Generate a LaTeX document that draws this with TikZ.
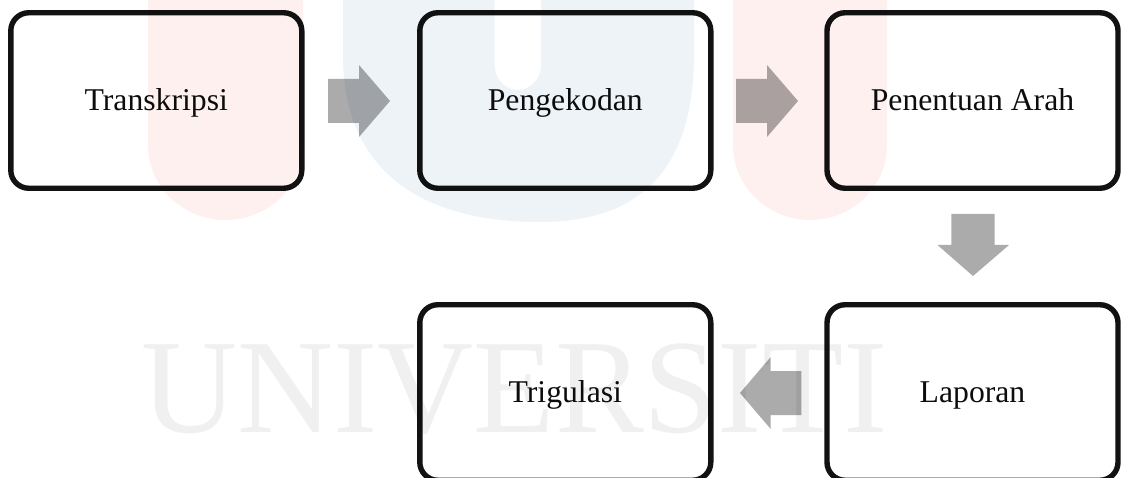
\documentclass[tikz,border=0pt]{standalone}
\usepackage{fontspec}
\setmainfont{Liberation Serif}
\begin{document}
\begin{tikzpicture}[x=1pt,y=-1pt,
  stepbox/.style={draw=black!93,line width=5.4pt,rounded corners=18pt,minimum width=291pt,minimum height=175.5pt,inner sep=0pt,text height=28pt,text depth=7.6pt,font=\fontsize{31.7}{36}\selectfont,text=black!95},
  blockarrow/.style={fill=black!33,draw=none},
  wmred/.style={fill=red!6!white,draw=none},
  wmblue/.style={fill=wblue,draw=none}]
\definecolor{wblue}{HTML}{EEF3F8}
\useasboundingbox (0,0) rectangle (1121,478);
\clip (0,0) rectangle (1121,478);
\fill[white] (0,0) rectangle (1121,478);
\node[stepbox] (trans) at (156.3,100.5) {Transkripsi};
\node[stepbox] (kode) at (565.3,100.5) {Pengekodan};
\node[stepbox] (arah) at (972.5,100.5) {Penentuan Arah};
\node[stepbox] (lapor) at (972.5,392.5) {Laporan};
\node[stepbox] (tri) at (565.3,392.5) {Trigulasi};
\fill[blockarrow] (328,79) -- (359,79) -- (359,65) -- (390,101) -- (359,137) -- (359,123) -- (328,123) -- cycle;
\fill[blockarrow] (736,79) -- (767,79) -- (767,65) -- (798,101) -- (767,137) -- (767,123) -- (736,123) -- cycle;
\fill[blockarrow] (951.4,214) -- (994.6,214) -- (994.6,245) -- (1009,245) -- (973,276) -- (937.5,245) -- (951.4,245) -- cycle;
\fill[blockarrow] (801.4,371) -- (770.7,371) -- (770.7,357) -- (740,393) -- (770.7,429) -- (770.7,415) -- (801.4,415) -- cycle;
\begin{scope}[blend mode=multiply]
\fill[wmred] (148,-5) -- (303,-5) -- (303,145) arc[start angle=0,end angle=180,x radius=77.5,y radius=75] -- cycle;
\fill[wmred] (733,-5) -- (887,-5) -- (887,145) arc[start angle=0,end angle=180,x radius=77,y radius=75] -- cycle;
\fill[wmblue,even odd rule] (343,-5) -- (694,-5) -- (694,60) .. controls (692,170) and (640,222) .. (540,222) .. controls (420,222) and (345,170) .. (343,60) -- cycle
  (494.6,-5) -- (541,-5) -- (541,65) arc[start angle=0,end angle=180,x radius=23.2,y radius=25] -- cycle;
\node[anchor=base,inner sep=0pt,text=black!6,xscale=0.993,font=\fontsize{134}{140}\selectfont] (wm) at (514.5,432) {UNIVERSITI};
\end{scope}
\end{tikzpicture}
\end{document}
